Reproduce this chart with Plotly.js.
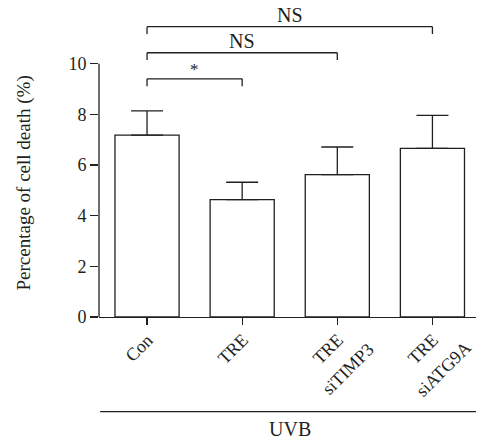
<!DOCTYPE html>
<html>
<head>
<meta charset="utf-8">
<script src="https://cdn.plot.ly/plotly-3.0.1.min.js"></script>
<style>
  html, body { margin: 0; padding: 0; background: #fff; }
  #chart { width: 477px; height: 445px; }
</style>
</head>
<body>
<div id="chart"></div>
<script>
// Cell death after UVB, per treatment group
const groups = ['Con', 'TRE', 'TRE\nsiTIMP3', 'TRE\nsiATG9A'];
const meanDeath = [7.18, 4.63, 5.62, 6.66];
const sdDeath = [0.96, 0.69, 1.09, 1.30];
const yTicks = [0, 2, 4, 6, 8, 10];

// Pairwise comparisons against the control group
const cmpFrom = [0, 0, 0];
const cmpTo = [1, 2, 3];
const cmpLevel = [9.40, 10.43, 11.46];
const cmpLabel = ['*', 'NS', 'NS'];

const ink = '#231f20';
const serifName = 'Liberation Serif';
const serif = 'Liberation Serif, Times New Roman, serif';
const tickSize = 18;
const LABEL_ANGLE = -45;

const idx = groups.map((g, i) => i);

const bars = {
  type: 'bar',
  x: idx,
  y: meanDeath,
  width: 0.674,
  marker: { color: '#ffffff', line: { color: ink, width: 1.3 } },
  error_y: {
    type: 'data', array: sdDeath, arrayminus: sdDeath.map(() => 0),
    symmetric: false, color: ink, thickness: 1.3, width: 16
  },
  hoverinfo: 'skip',
  showlegend: false
};

const shapes = [];
const annotations = [];
const labelTexts = new Set();
const leg = 0.29;

cmpFrom.forEach((a, k) => {
  const b = cmpTo[k], y = cmpLevel[k];
  const ln = { color: ink, width: 1.3 };
  shapes.push({ type: 'line', xref: 'x', yref: 'y', x0: a, x1: b, y0: y, y1: y, line: ln });
  shapes.push({ type: 'line', xref: 'x', yref: 'y', x0: a, x1: a, y0: y - leg, y1: y, line: ln });
  shapes.push({ type: 'line', xref: 'x', yref: 'y', x0: b, x1: b, y0: y - leg, y1: y, line: ln });
  annotations.push({
    xref: 'x', yref: 'y', x: (a + b) / 2, y: y,
    text: cmpLabel[k], showarrow: false, xanchor: 'center', yanchor: 'bottom',
    yshift: cmpLabel[k] === '*' ? -2 : -1,
    font: { family: serif, size: cmpLabel[k] === '*' ? 17 : 20, color: ink }
  });
});

// Rotated category labels: first line ends just below the tick,
// following lines are centred under it.
const ctx = document.createElement('canvas').getContext('2d');
ctx.font = tickSize + 'px "' + serifName + '"';
const c45 = Math.SQRT1_2;
const lineStep = 28;       // distance between label lines
const endDx = 3, endDy = 20;
groups.forEach((g, i) => {
  const lines = g.split('\n');
  const w0 = ctx.measureText(lines[0]).width;
  lines.forEach((t, k) => {
    const cx = endDx - c45 * w0 / 2 + c45 * k * lineStep;
    const cy = endDy + c45 * w0 / 2 + c45 * k * lineStep;
    labelTexts.add(t);
    annotations.push({
      xref: 'x', yref: 'paper', x: i, y: 0, text: t, textangle: LABEL_ANGLE,
      showarrow: false, xanchor: 'center', yanchor: 'middle',
      xshift: Math.round(cx), yshift: -Math.round(cy),
      font: { family: serif, size: tickSize, color: ink }
    });
  });
});

// y axis line only spans the tick range
shapes.push({ type: 'line', xref: 'paper', yref: 'y', x0: 0, x1: 0, y0: 0, y1: 10,
  line: { color: ink, width: 1.3 } });

// UVB grouping line under the category labels
shapes.push({ type: 'line', xref: 'paper', yref: 'paper', x0: 0.003, x1: 1, y0: -0.3115, y1: -0.3115,
  line: { color: ink, width: 1.3 } });
annotations.push({ xref: 'paper', yref: 'paper', x: 0.5066, y: -0.368, text: 'UVB',
  showarrow: false, xanchor: 'center', yanchor: 'middle',
  font: { family: serif, size: 20, color: ink } });

// y axis title
annotations.push({ xref: 'paper', yref: 'paper', x: -0.199, y: 0.4424,
  text: 'Percentage of cell death (%)', textangle: -90, showarrow: false,
  xanchor: 'center', yanchor: 'middle',
  font: { family: serif, size: 19, color: ink } });

const layout = {
  width: 477, height: 445,
  margin: { l: 99, r: 1, t: 13, b: 128 },
  xaxis: {
    range: [-0.505, 3.458],
    tickvals: idx, showticklabels: false,
    ticks: 'outside', ticklen: 7, tickwidth: 1.3, tickcolor: ink,
    showline: true, linecolor: ink, linewidth: 1.3,
    showgrid: false, zeroline: false
  },
  yaxis: {
    range: [0, 12],
    tickvals: yTicks, ticktext: yTicks.map(String),
    ticks: 'outside', ticklen: 8, tickwidth: 1.3, tickcolor: ink,
    showline: false, showgrid: false, zeroline: false,
    tickfont: { family: serif, size: tickSize, color: ink }
  },
  shapes: shapes,
  annotations: annotations,
  showlegend: false
};

const gd = document.getElementById('chart');

// Rotate each category label about its own centre.
function slantLabels() {
  gd.querySelectorAll('.annotation-text-g').forEach((g) => {
    const txt = (g.textContent || '').trim();
    if (!labelTexts.has(txt)) return;
    g.removeAttribute('transform');
    g.style.transformBox = 'fill-box';
    g.style.transformOrigin = 'center';
    g.style.transform = 'rotate(' + LABEL_ANGLE + 'deg)';
  });
}

Plotly.newPlot(gd, [bars], layout, { staticPlot: true }).then(() => {
  slantLabels();
  requestAnimationFrame(slantLabels);
  [50, 300, 1000].forEach((t) => setTimeout(slantLabels, t));
});
</script>
</body>
</html>
